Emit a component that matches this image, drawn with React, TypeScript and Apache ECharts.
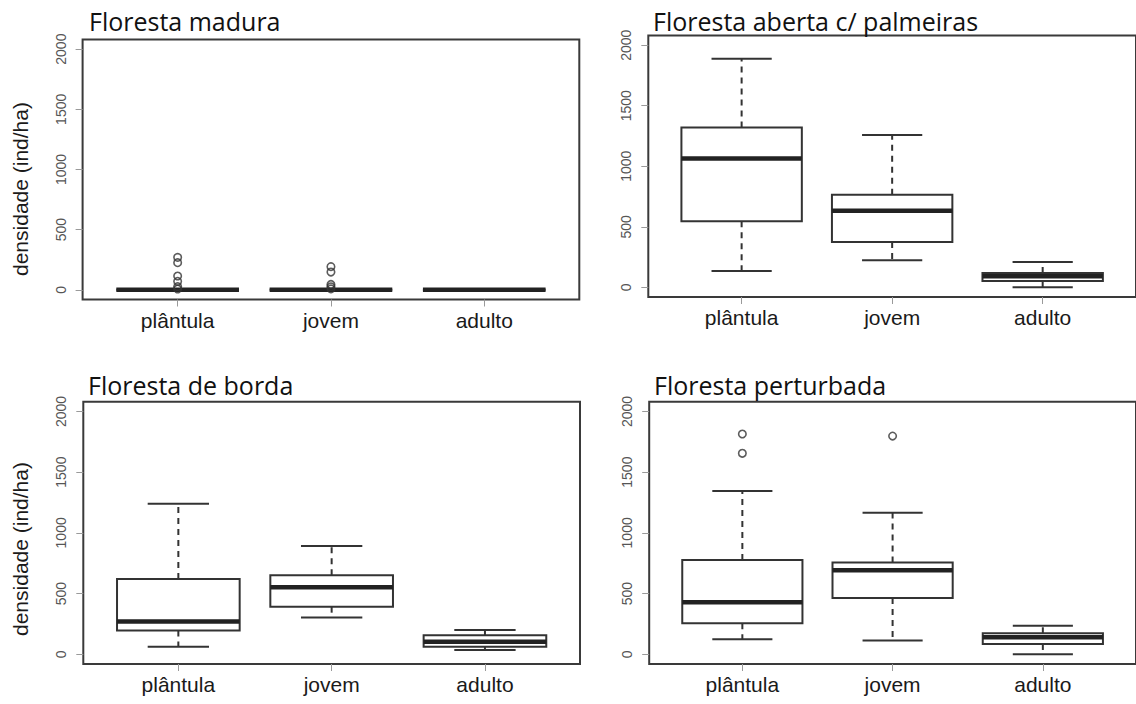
import React, { useEffect, useRef } from "react";
import * as echarts from "echarts";

// Life stages on the x axis
const categories = ["plântula", "jovem", "adulto"];
// Density ticks (ind/ha)
const yTicks = [0, 500, 1000, 1500, 2000];
const panelTitles = [
  "Floresta madura",
  "Floresta aberta c/ palmeiras",
  "Floresta de borda",
  "Floresta perturbada",
];
const yAxisTitle = "densidade (ind/ha)";

// Five-number summaries per stage: [lower whisker, Q1, median, Q3, upper whisker]
const maduraStats = [
  [0, 0, 0, 0, 0],
  [0, 0, 0, 0, 0],
  [0, 0, 0, 0, 0],
];
const abertaStats = [
  [135, 546, 1065, 1321, 1887],
  [223, 375, 632, 764, 1258],
  [0, 52, 91, 119, 210],
];
const bordaStats = [
  [63, 195, 269, 620, 1240],
  [302, 392, 552, 650, 892],
  [36, 63, 104, 156, 200],
];
const perturbadaStats = [
  [123, 255, 428, 777, 1345],
  [113, 464, 692, 755, 1166],
  [0, 85, 140, 173, 236],
];

// Outlying plots per stage
const maduraOutliers = [[270, 226, 115, 71, 27, 7], [193, 148, 45, 26, 8], []];
const abertaOutliers = [[], [], []];
const bordaOutliers = [[], [], []];
const perturbadaOutliers = [[1814, 1655], [1797], []];

const panelStats = [maduraStats, abertaStats, bordaStats, perturbadaStats];
const panelOutliers = [maduraOutliers, abertaOutliers, bordaOutliers, perturbadaOutliers];

// Plot frames (px) for the 2x2 layout
const frames = [
  { left: 82.6, top: 39.5, width: 496.7, height: 260 },
  { left: 648.3, top: 35.5, width: 496.7, height: 261.5 },
  { left: 83.3, top: 401.7, width: 496.7, height: 262.3 },
  { left: 649.2, top: 401.7, width: 496.7, height: 262.3 },
];
const titlePos = [
  { x: 89, y: 21 },
  { x: 653, y: 21 },
  { x: 88, y: 385 },
  { x: 654, y: 385 },
];
const yTitlePos = [
  { x: 20.5, y: 189 },
  { x: 20.5, y: 549 },
];

const INK = "#333333";
const ARIAL = '"Liberation Sans", Arial, sans-serif';

const renderBox = (_params: any, api: any) => {
  const x = api.value(0);
  const pt = (v: number) => api.coord([x, v]);
  const [cx, lowY] = pt(api.value(1));
  const q1Y = pt(api.value(2))[1];
  const medY = pt(api.value(3))[1];
  const q3Y = pt(api.value(4))[1];
  const hiY = pt(api.value(5))[1];
  const boxHalf = api.size([0.8, 0])[0] / 2;
  const capHalf = boxHalf / 2;
  const dashed = { stroke: INK, lineWidth: 2, lineDash: [6, 5], fill: "none" };
  const solid = { stroke: INK, lineWidth: 2, fill: "none" };
  return {
    type: "group",
    children: [
      { type: "line", shape: { x1: cx, y1: q3Y, x2: cx, y2: hiY }, style: dashed },
      { type: "line", shape: { x1: cx, y1: q1Y, x2: cx, y2: lowY }, style: dashed },
      { type: "line", shape: { x1: cx - capHalf, y1: hiY, x2: cx + capHalf, y2: hiY }, style: solid },
      { type: "line", shape: { x1: cx - capHalf, y1: lowY, x2: cx + capHalf, y2: lowY }, style: solid },
      {
        type: "rect",
        shape: { x: cx - boxHalf, y: q3Y, width: boxHalf * 2, height: q1Y - q3Y },
        style: { fill: "#ffffff", stroke: INK, lineWidth: 2 },
      },
      {
        type: "line",
        shape: { x1: cx - boxHalf, y1: medY, x2: cx + boxHalf, y2: medY },
        style: { stroke: "#222222", lineWidth: 4.5 },
      },
    ],
  };
};

function buildOption() {
  const grid = frames.map((f) => ({
    ...f,
    show: true,
    borderColor: "#3a3a3a",
    borderWidth: 2,
    backgroundColor: "transparent",
    containLabel: false,
  }));

  const xAxis = frames.map((_, i) => ({
    type: "value",
    gridIndex: i,
    min: 0.38,
    max: 3.62,
    axisLine: { show: false, onZero: false },
    splitLine: { show: false },
    axisTick: {
      show: true,
      customValues: [1, 2, 3],
      length: 7,
      lineStyle: { color: "#9a9a9a", width: 1 },
    },
    axisLabel: {
      show: true,
      customValues: [1, 2, 3],
      formatter: (v: number) => categories[Math.round(v) - 1] ?? "",
      fontFamily: ARIAL,
      fontSize: 21,
      color: "#1a1a1a",
      margin: 10,
    },
  }));

  const yAxis = frames.map((_, i) => ({
    type: "value",
    gridIndex: i,
    min: -80,
    max: 2080,
    axisLine: { show: false, onZero: false },
    splitLine: { show: false },
    axisTick: {
      show: true,
      customValues: yTicks,
      length: 7,
      lineStyle: { color: "#9a9a9a", width: 1 },
    },
    axisLabel: {
      show: true,
      customValues: yTicks,
      formatter: (v: number) => String(Math.round(v)),
      rotate: 90,
      fontFamily: ARIAL,
      fontSize: 14,
      color: "#555555",
      margin: 15,
    },
  }));

  const series: any[] = [];
  panelStats.forEach((stats, i) => {
    series.push({
      type: "custom",
      name: panelTitles[i],
      xAxisIndex: i,
      yAxisIndex: i,
      renderItem: renderBox,
      encode: { x: 0, y: [1, 2, 3, 4, 5] },
      data: stats.map((s, k) => [k + 1, ...s]),
      silent: true,
      z: 2,
    });
    const pts: number[][] = [];
    panelOutliers[i].forEach((vals, k) => vals.forEach((v) => pts.push([k + 1, v])));
    series.push({
      type: "scatter",
      xAxisIndex: i,
      yAxisIndex: i,
      data: pts,
      symbol: "circle",
      symbolSize: 7.5,
      itemStyle: { color: "rgba(0,0,0,0)", borderColor: INK, borderWidth: 1.6 },
      silent: true,
      z: 3,
    });
  });

  const graphic: any[] = [];
  panelTitles.forEach((t, i) => {
    graphic.push({
      type: "text",
      x: titlePos[i].x,
      y: titlePos[i].y,
      silent: true,
      style: {
        text: t,
        font: '25px "Open Sans", "Noto Sans", sans-serif',
        fill: "#111111",
        textAlign: "left",
        textVerticalAlign: "middle",
      },
    });
  });
  yTitlePos.forEach((p) => {
    graphic.push({
      type: "text",
      x: p.x,
      y: p.y,
      rotation: Math.PI / 2,
      silent: true,
      style: {
        text: yAxisTitle,
        font: `21px ${ARIAL}`,
        fill: "#1a1a1a",
        textAlign: "center",
        textVerticalAlign: "middle",
      },
    });
  });

  return {
    animation: false,
    backgroundColor: "#ffffff",
    grid,
    xAxis,
    yAxis,
    series,
    graphic,
  };
}

export default function App() {
  const ref = useRef<HTMLDivElement>(null);
  useEffect(() => {
    document.body.style.margin = "0";
    if (!ref.current) return;
    const chart = echarts.init(ref.current, undefined, { renderer: "svg" });
    chart.setOption(buildOption() as any);
    return () => chart.dispose();
  }, []);
  return <div ref={ref} style={{ width: 1136, height: 704 }} />;
}
